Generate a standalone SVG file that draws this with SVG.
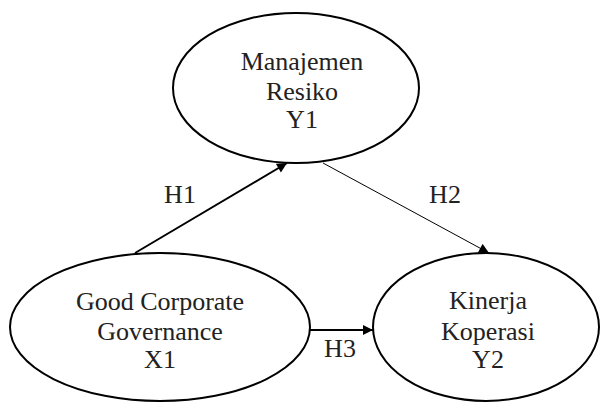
<svg xmlns="http://www.w3.org/2000/svg" width="601" height="402" viewBox="0 0 601 402">
<style>
.n ellipse{fill:#fff;stroke:#000;stroke-width:2}
text{font-family:"Liberation Serif","Times New Roman",serif;font-size:26px;fill:#222;text-anchor:middle}
.c line{stroke:#000}
</style>
<defs>
<marker id="ah" viewBox="0 0 10 10" refX="10" refY="5" markerWidth="12" markerHeight="10" markerUnits="userSpaceOnUse" orient="auto">
<path d="M0,0 L10,5 L0,10 z" fill="#000"/>
</marker>
</defs>
<rect width="601" height="402" fill="#fff"/>
<g class="c" id="connectors">
<line x1="135" y1="253" x2="287" y2="163" stroke-width="2" marker-end="url(#ah)"/>
<line x1="323" y1="163" x2="489" y2="253" stroke-width="1" marker-end="url(#ah)"/>
<line x1="310" y1="330" x2="373" y2="330" stroke-width="2" marker-end="url(#ah)"/>
<text x="180" y="203">H1</text>
<text x="445" y="203">H2</text>
<text x="340" y="357">H3</text>
</g>
<g class="n" id="y1">
<ellipse cx="296" cy="88" rx="123" ry="75"/>
<text x="302" y="70">Manajemen</text>
<text x="302" y="100">Resiko</text>
<text x="302" y="128">Y1</text>
</g>
<g class="n" id="x1">
<ellipse cx="160" cy="327" rx="150" ry="74"/>
<text x="160" y="310">Good Corporate</text>
<text x="160" y="340">Governance</text>
<text x="160" y="368">X1</text>
</g>
<g class="n" id="y2">
<ellipse cx="486" cy="327" rx="113" ry="74"/>
<text x="488" y="309">Kinerja</text>
<text x="488" y="340">Koperasi</text>
<text x="488" y="368">Y2</text>
</g>
</svg>
